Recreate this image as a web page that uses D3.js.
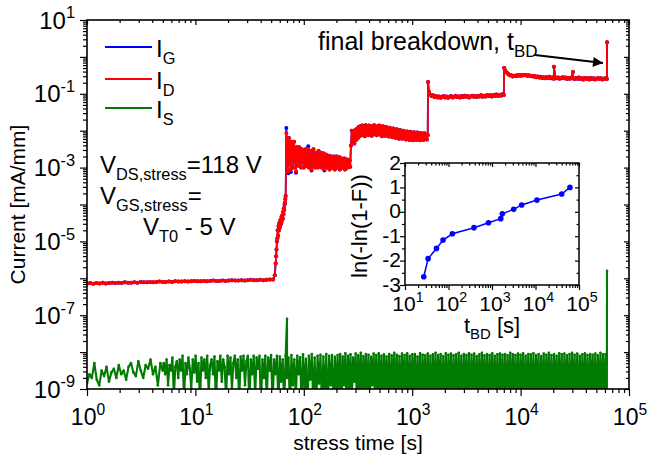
<!DOCTYPE html>
<html><head><meta charset="utf-8">
<script src="https://cdn.jsdelivr.net/npm/d3@7"></script>
<style>body{margin:0;background:#fff} text{font-family:"Liberation Sans",Arial,sans-serif;fill:#000}</style>
</head><body><svg id="c" width="647" height="456"></svg>
<script>
// ---------------- DATA (currents stored as log10 of mA/mm) ----------------
const xTickExps = [0,1,2,3,4,5];
const yTickExps = [1,-1,-3,-5,-7,-9];
const insetXTickExps = [1,2,3,4,5];
const insetYTicks = [2,1,0,-1,-2,-3];

// I_D: hand-read segments (t0, t1, values; sample times spread over the segment) + single points
const idFlat = [-6.14,-6.13,-6.15,-6.13,-6.14,-6.12,-6.14,-6.13,-6.12,-6.13,
  -6.12,-6.13,-6.11,-6.12,-6.12,-6.11,-6.12,-6.1,-6.11,-6.11,
  -6.1,-6.11,-6.1,-6.09,-6.1,-6.1,-6.09,-6.1,-6.08,-6.09,
  -6.09,-6.08,-6.09,-6.08,-6.07,-6.08,-6.08,-6.07,-6.08,-6.07,
  -6.06,-6.07,-6.07,-6.06,-6.07,-6.06,-6.05,-6.06,-6.06,-6.05,
  -6.06,-6.05,-6.04,-6.05,-6.05,-6.04,-6.05,-6.04,-6.03,-6.03];
const idRise = [[54,-5.92],[55,-5.6],[55.5,-5.4],[56,-5.22],[56.5,-5.0],[57,-4.92],[57.5,-4.7],[58,-4.85],[58.5,-4.58],[59,-4.7],[59.5,-4.5],[60,-4.62],[60.5,-4.45],[61,-4.55],[61.5,-4.4],[62,-4.5],[62.5,-4.32],[63,-4.42],[63.5,-4.3],[64,-4.38],[64.5,-4.2],[65,-4.26],[65.5,-4.1],[66,-4.15],[66.5,-4.0],[67,-3.95],[67.5,-3.85],[68,-3.77]];
const idNoisy1 = [-2.06,-2.6,-2.25,-3.1,-2.2,-2.9,-2.35,-3.05,-2.3,-2.75,
  -2.4,-3.0,-2.3,-2.85,-2.5,-3.1,-2.45,-2.8,-2.55,-2.95,
  -2.45,-2.9,-2.6,-3.0,-2.5,-2.85,-2.55,-3.0,-2.6,-2.9,
  -2.5,-2.95,-2.65,-2.85,-2.5,-3.0,-2.6,-2.9,-2.55,-3.05,
  -2.65,-2.85,-2.5,-2.95,-2.7,-3.0,-2.6,-2.9,-2.65,-3.0,
  -2.55,-2.95,-2.7,-2.85,-2.6,-3.0,-2.7,-2.9,-2.62,-3.05,
  -2.75,-2.95,-2.65,-3.0,-2.7,-2.9,-2.68,-3.05,-2.75,-2.95,
  -2.7,-3.0,-2.8,-2.9,-2.7,-3.05,-2.78,-2.95,-2.7,-3.0,
  -2.8,-2.92,-2.72,-3.05,-2.8,-2.95,-2.75,-3.0,-2.82,-2.9,
  -2.75,-3.05,-2.8,-2.95,-2.78,-3.0,-2.85,-2.92,-2.8,-2.98];
const idNoisy2 = [-2.4,-2.0,-2.3,-2.05,-2.35,-1.98,-2.25,-1.95,-2.2,-1.9,
  -2.15,-1.88,-2.12,-1.86,-2.1,-1.9,-2.15,-1.85,-2.08,-1.88,
  -2.12,-1.86,-2.05,-1.9,-2.14,-1.87,-2.1,-1.85,-2.06,-1.9,
  -2.12,-1.88,-2.08,-1.86,-2.1,-1.9,-2.15,-1.88,-2.07,-1.92,
  -2.14,-1.9,-2.1,-1.95,-2.16,-1.92,-2.12,-1.96,-2.18,-1.94,
  -2.15,-1.98,-2.2,-1.96,-2.16,-2.0,-2.22,-1.98,-2.18,-2.02,
  -2.22,-2.0,-2.2,-2.04,-2.24,-2.02,-2.2,-2.05,-2.25,-2.03,
  -2.22,-2.06,-2.26,-2.04,-2.2,-2.07,-2.25,-2.05,-2.22,-2.08,
  -2.26,-2.06,-2.22,-2.09,-2.25,-2.07,-2.2,-2.1,-2.24,-2.12];
const idJump1 = [[1400,-0.68],[1430,-0.95]];
const idLevel3 = [-1.02,-1.06,-1.04,-1.09,-1.06,-1.1,-1.07,-1.11,-1.08,-1.06,
  -1.1,-1.07,-1.11,-1.08,-1.06,-1.1,-1.08,-1.05,-1.09,-1.07,
  -1.1,-1.06,-1.09,-1.05,-1.08,-1.06,-1.1,-1.07,-1.05,-1.08,
  -1.06,-1.09,-1.05,-1.07,-1.04,-1.08,-1.05,-1.07,-1.03,-1.06,
  -1.04,-1.07,-1.03,-1.05,-1.02,-1.06,-1.03,-1.05,-1.01,-1.03];
const idJump2 = [[7050,-0.3]];
const idLevel4 = [-0.36,-0.42,-0.46,-0.5,-0.5,-0.53,-0.51,-0.52,-0.5,-0.51,
  -0.49,-0.51,-0.49,-0.5,-0.49,-0.51,-0.5,-0.52,-0.51,-0.53,
  -0.52,-0.55,-0.53,-0.56,-0.54,-0.57,-0.55,-0.58,-0.55,-0.57,
  -0.54,-0.58,-0.56,-0.59,-0.55,-0.58,-0.56,-0.59,-0.57,-0.55,
  -0.58,-0.56,-0.6,-0.57,-0.59,-0.56,-0.58,-0.6,-0.57,-0.59,
  -0.56,-0.6,-0.58,-0.61,-0.57,-0.59,-0.58,-0.61,-0.57,-0.6,
  -0.58,-0.61,-0.59,-0.57,-0.6,-0.58,-0.61,-0.59,-0.58,-0.6];
const idSpikes = [[20300,-0.27],[30400,-0.41],[62700,0.4]];

// I_G: lies under I_D except a few excursions in the 69-268 s window
const igNoisy1 = [-1.93,-2.6,-2.25,-3.15,-2.2,-2.9,-2.35,-3.12,-2.3,-2.75,
  -2.4,-3.0,-2.3,-2.85,-2.5,-3.14,-2.45,-2.8,-2.55,-2.95,
  -2.45,-2.9,-2.6,-3.0,-2.5,-2.85,-2.55,-3.0,-2.6,-2.9,
  -2.5,-2.95,-2.65,-2.85,-2.42,-3.0,-2.6,-2.9,-2.55,-3.08,
  -2.65,-2.85,-2.5,-2.95,-2.7,-3.0,-2.6,-2.9,-2.65,-3.0,
  -2.55,-2.95,-2.7,-2.85,-2.6,-3.0,-2.7,-2.9,-2.62,-3.08,
  -2.75,-2.95,-2.65,-3.0,-2.7,-2.9,-2.68,-3.05,-2.75,-2.95,
  -2.7,-3.0,-2.8,-2.9,-2.7,-3.05,-2.78,-2.95,-2.7,-3.0,
  -2.8,-2.92,-2.72,-3.05,-2.8,-2.95,-2.75,-3.0,-2.82,-2.9,
  -2.75,-3.05,-2.8,-2.95,-2.78,-3.0,-2.85,-2.92,-2.8,-2.98];

// I_S
const isEarly = [-8.85,-8.6,-8.7,-8.3,-8.75,-8.9,-8.5,-8.65,-8.4,-8.8,
  -8.55,-8.45,-8.7,-8.35,-8.6,-8.5,-8.75,-8.4,-8.3,-8.55,
  -8.65,-8.25,-8.5,-8.7,-8.35,-8.45,-8.2,-8.6,-8.4,-8.9,-8.3,-8.5];
const isMid = [-8.3,-8.6,-8.2,-8.9,-8.35,-8.5,-8.15,-9.2,-8.4,-8.25,
  -8.7,-8.2,-8.5,-8.1,-9.3,-8.3,-8.6,-8.15,-8.45,-9.0,
  -8.2,-8.55,-8.1,-8.8,-8.3,-9.4,-8.15,-8.5,-8.2,-8.7,
  -8.1,-9.1,-8.35,-8.2,-8.6,-8.12,-9.5,-8.25,-8.5,-8.1,
  -8.8,-8.2,-8.4,-9.3,-8.1,-8.6,-8.15,-9.0,-8.3,-8.1,
  -8.7,-8.2,-9.4,-8.12,-8.5,-8.1,-8.9,-8.25,-8.1,-9.5,
  -8.2,-8.6,-8.1,-9.2,-8.15,-8.45,-8.1,-9.6,-8.2,-8.7,
  -8.1,-9.3,-8.15,-8.5,-8.08,-9.5,-8.2,-8.6,-8.1,-9.4,
  -8.12,-8.8,-8.2,-9.5,-8.1,-8.7,-8.15,-9.6,-8.08,-8.9,
  -8.2,-9.3,-8.1,-8.6,-8.14,-9.5,-8.06,-9.0,-8.18,-9.6,
  -8.1,-8.75,-8.05,-9.4,-8.15,-9.6,-8.1,-8.85,-8.07,-9.5,
  -8.12,-9.2,-8.05,-9.6,-8.1,-8.9,-8.08,-9.5,-8.13,-9.3];
const isLate = [-8.08,-9.3,-8.05,-9.5,-8.12,-8.9,-8.03,-9.6,-8.1,-9.1,
  -8.06,-9.4,-8.15,-8.8,-8.04,-9.5,-8.09,-9.2,-8.02,-9.6,
  -8.11,-9.0,-8.05,-9.4,-8.07,-9.5,-8.13,-8.9,-8.04,-9.3,
  -8.08,-9.6,-8.03,-9.2,-8.1,-9.5,-8.06,-9.1,-8.12,-9.4,
  -8.05,-9.6,-8.09,-9.0,-8.02,-9.5,-8.07,-9.3,-8.11,-9.6,
  -8.04,-9.2,-8.08,-9.5,-8.03,-9.4,-8.1,-9.6,-8.06,-9.1,
  -8.05,-9.5,-8.12,-9.3,-8.03,-9.6,-8.07,-9.2,-8.09,-9.5,
  -8.04,-9.4,-8.1,-9.6,-8.06,-9.3,-8.02,-9.5,-8.08,-9.1,
  -8.05,-9.6,-8.11,-9.4,-8.03,-9.5,-8.07,-9.2,-8.04,-9.6,
  -8.09,-9.3,-8.06,-9.5,-8.02,-9.4,-8.1,-9.6,-8.05,-9.2,
  -8.08,-9.5,-8.03,-9.6,-8.07,-9.3,-8.04,-9.5,-8.11,-9.4,
  -8.06,-9.6,-8.02,-9.2,-8.09,-9.5,-8.05,-9.6,-8.08,-9.3,
  -8.03,-9.5,-8.1,-9.4,-8.06,-9.6,-8.04,-9.2,-8.07,-9.5,
  -8.05,-9.6,-8.09,-9.3,-8.02,-9.5,-8.06,-9.4,-8.08,-9.6,
  -8.04,-9.5,-8.07,-9.2,-8.03,-9.6,-8.1,-9.4,-8.05,-9.5,
  -8.06,-9.5,-8.03,-9.6,-8.09,-9.2,-8.05,-9.5,-8.11,-9.4,
  -8.04,-9.6,-8.07,-9.3,-8.02,-9.5,-8.08,-9.6,-8.05,-9.2,
  -8.1,-9.5,-8.03,-9.4,-8.06,-9.6,-8.04,-9.3,-8.09,-9.5,
  -8.05,-9.6,-8.02,-9.2,-8.07,-9.5,-8.04,-9.6,-8.1,-9.3,
  -8.06,-9.5,-8.03,-9.4,-8.08,-9.6,-8.05,-9.2,-8.07,-9.5,
  -8.04,-9.6,-8.09,-9.3,-8.02,-9.5,-8.06,-9.4,-8.05,-9.6];
const isSpikes = [[70,-7.1],[62700,-5.8]];

// Inset: Weibull plot of t_BD
const tBD = [27,34,53,75,123,385,830,1590,1730,3150,4800,10800,40000,62000];
const weib = [-2.66,-1.92,-1.5,-1.16,-0.9,-0.65,-0.45,-0.28,-0.08,0.10,0.28,0.48,0.73,1.0];

// annotation arrow (data units: time s, current mA/mm)
const arrowFrom = [13600, 1.12], arrowTo = [57600, 0.68];

// ---------------- BUILD ----------------
const seg = (t0,t1,vals) => vals.map((v,i)=>[t0*Math.pow(t1/t0, i/(vals.length-1)), v]);
const byT = (a,b)=>a[0]-b[0];
const ID = [].concat(seg(1,52,idFlat), idRise, seg(69,268,idNoisy1), seg(272,1390,idNoisy2),
  idJump1, seg(1460,7000,idLevel3), idJump2, seg(7200,62500,idLevel4), idSpikes).sort(byT);
const IG = ID.filter(d=>d[0]<69||d[0]>268).concat(seg(69,268,igNoisy1)).sort(byT);
const IS = [].concat(seg(1,5,isEarly), seg(5.1,200,isMid), seg(205,62500,isLate), isSpikes).sort(byT);

const svg = d3.select("#c");
const M = {l:87, r:629, t:20, b:389};
const x = d3.scaleLog().domain([1,1e5]).range([M.l,M.r]);
const y = d3.scaleLog().domain([1e-9,10]).range([M.b,M.t]);

function rich(x0,y0,parts,size,anchor,rot){
  const t = svg.append("text").attr("x",x0).attr("y",y0).attr("font-size",size).attr("text-anchor",anchor||"start");
  if(rot) t.attr("transform",`rotate(${rot},${x0},${y0})`);
  let shift=0;
  parts.forEach(([s,k])=>{
    const off = k===1 ? size*0.28 : k===2 ? -size*0.42 : 0;
    t.append("tspan").attr("dy",off-shift).attr("font-size",k?size*0.68:size).text(s);
    shift=off;
  });
  return t;
}
function ticks(gen, scale, vals, size, tr){
  const a = svg.append("g").attr("transform",tr)
    .call(gen(scale).tickValues(vals).tickSize(size).tickSizeOuter(0).tickFormat(()=>""));
  a.select(".domain").remove();
  a.selectAll("line").attr("stroke","#000").attr("stroke-width",1.2);
}

svg.append("clipPath").attr("id","clip").append("rect")
  .attr("x",M.l).attr("y",M.t).attr("width",M.r-M.l).attr("height",M.b-M.t);

const toP = d=>[x(d[0]), y(Math.pow(10,d[1]))];
const line = d3.line().x(d=>toP(d)[0]).y(d=>toP(d)[1]);
const plot = svg.append("g").attr("clip-path","url(#clip)");
function series(data,color,lw,r){
  plot.append("path").attr("d",line(data)).attr("fill","none").attr("stroke",color).attr("stroke-width",lw).attr("stroke-linejoin","round");
  plot.append("g").selectAll("circle").data(data).join("circle")
    .attr("cx",d=>toP(d)[0]).attr("cy",d=>toP(d)[1]).attr("r",r).attr("fill",color);
}
series(IS,"#007a00",2.1,1.3);
series(IG,"#0000ff",1.8,2);
series(ID,"#ff0000",1.8,2);

// main axes ticks
const xMaj = xTickExps.map(e=>Math.pow(10,e));
const xMin = d3.range(0,5).flatMap(e=>d3.range(2,10).map(k=>k*Math.pow(10,e)));
const yMaj = d3.range(-9,2).map(e=>Math.pow(10,e));
const yMin = d3.range(-9,1).flatMap(e=>d3.range(2,10).map(k=>k*Math.pow(10,e)));
ticks(d3.axisBottom,x,xMaj,7,`translate(0,${M.b})`);
ticks(d3.axisBottom,x,xMin,4,`translate(0,${M.b})`);
ticks(d3.axisBottom,x,xMaj,5,`translate(0,${M.t})`);
ticks(d3.axisBottom,x,xMin,3,`translate(0,${M.t})`);
ticks(d3.axisLeft,y,yMaj,7,`translate(${M.l},0)`);
ticks(d3.axisLeft,y,yMin,4,`translate(${M.l},0)`);
ticks(d3.axisLeft,y,yMaj,5,`translate(${M.r},0)`);
ticks(d3.axisLeft,y,yMin,3,`translate(${M.r},0)`);
svg.append("rect").attr("x",M.l).attr("y",M.t).attr("width",M.r-M.l).attr("height",M.b-M.t)
  .attr("fill","none").attr("stroke","#000").attr("stroke-width",1.6);

xTickExps.forEach(e=>rich(x(Math.pow(10,e))+1,425,[["10",0],[String(e),2]],23,"middle"));
yTickExps.forEach(e=>rich(75,y(Math.pow(10,e))+8.5,[["10",0],[String(e),2]],24,"end"));
rich(358,450,[["stress time [s]",0]],21,"middle");
rich(25,(M.t+M.b)/2,[["Current [mA/mm]",0]],21,"middle",-90);

// legend
const legend = [["G","#0000ff",47],["D","#ff0000",79],["S","#007a00",108]];
legend.forEach(([s,c,ly])=>{
  svg.append("line").attr("x1",105).attr("x2",152).attr("y1",ly).attr("y2",ly).attr("stroke",c).attr("stroke-width",2.2);
  rich(156,ly+10,[["I",0],[s,1]],24,"start");
});

// stress conditions
rich(100,173,[["V",0],["DS,stress",1],["=118 V",0]],24);
rich(100,204,[["V",0],["GS,stress",1],["=",0]],24);
rich(143,235,[["V",0],["T0",1],[" - 5 V",0]],24);

// annotation
svg.append("defs").append("marker").attr("id","ah").attr("viewBox","0 0 10 10").attr("refX",10).attr("refY",5)
  .attr("markerWidth",6).attr("markerHeight",5).attr("markerUnits","strokeWidth").attr("orient","auto")
  .append("path").attr("d","M0,0L10,5L0,10Z").attr("fill","#000");
const a0 = toP([arrowFrom[0],Math.log10(arrowFrom[1])]), a1 = toP([arrowTo[0],Math.log10(arrowTo[1])]);
svg.append("line").attr("x1",a0[0]).attr("y1",a0[1]).attr("x2",a1[0]).attr("y2",a1[1])
  .attr("stroke","#000").attr("stroke-width",2).attr("marker-end","url(#ah)");
rich(318,50,[["final breakdown, t",0],["BD",1]],25);

// ---------------- INSET ----------------
const I = {l:405, r:579, t:163, b:285};
const xi = d3.scaleLog().domain([10,1e5]).range([I.l,I.r]);
const yi = d3.scaleLinear().domain([-3,2]).range([I.b,I.t]);
svg.append("rect").attr("x",I.l).attr("y",I.t).attr("width",I.r-I.l).attr("height",I.b-I.t).attr("fill","#fff");
const xiMaj = insetXTickExps.map(e=>Math.pow(10,e));
const xiMin = d3.range(1,5).flatMap(e=>d3.range(2,10).map(k=>k*Math.pow(10,e)));
const yiMin = d3.range(-2.5,2,1);
ticks(d3.axisBottom,xi,xiMaj,5,`translate(0,${I.b})`);
ticks(d3.axisBottom,xi,xiMin,3,`translate(0,${I.b})`);
ticks(d3.axisBottom,xi,xiMaj,4,`translate(0,${I.t})`);
ticks(d3.axisBottom,xi,xiMin,2.5,`translate(0,${I.t})`);
ticks(d3.axisLeft,yi,insetYTicks,5,`translate(${I.l},0)`);
ticks(d3.axisLeft,yi,yiMin,3,`translate(${I.l},0)`);
ticks(d3.axisLeft,yi,insetYTicks,4,`translate(${I.r},0)`);
ticks(d3.axisLeft,yi,yiMin,2.5,`translate(${I.r},0)`);
svg.append("rect").attr("x",I.l).attr("y",I.t).attr("width",I.r-I.l).attr("height",I.b-I.t)
  .attr("fill","none").attr("stroke","#000").attr("stroke-width",1.5);
const wd = tBD.map((t,i)=>[t,weib[i]]);
svg.append("path").attr("d",d3.line().x(d=>xi(d[0])).y(d=>yi(d[1]))(wd)).attr("fill","none").attr("stroke","#0000ff").attr("stroke-width",1.5);
svg.append("g").selectAll("circle").data(wd).join("circle").attr("cx",d=>xi(d[0])).attr("cy",d=>yi(d[1])).attr("r",2.8).attr("fill","#0000ff");
insetXTickExps.forEach(e=>rich(xi(Math.pow(10,e))+3,311,[["10",0],[String(e),2]],21,"middle"));
insetYTicks.forEach(v=>rich(401,yi(v)+6.5,[[String(v),0]],21,"end"));
rich(492,333,[["t",0],["BD",1],[" [s]",0]],22,"middle");
rich(367,226,[["ln(-ln(1-F))",0]],22,"middle",-90);
</script></body></html>
